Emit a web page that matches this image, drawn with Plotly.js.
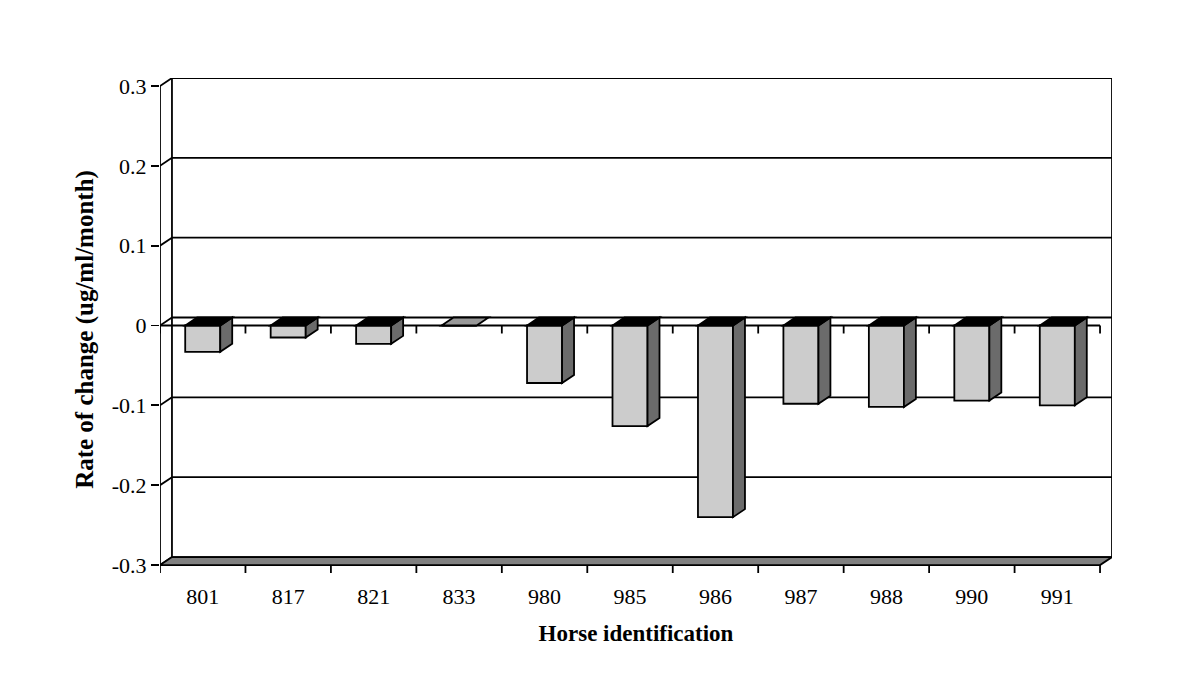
<!DOCTYPE html>
<html>
<head>
<meta charset="utf-8">
<script src="https://cdn.plot.ly/plotly-3.0.1.min.js"></script>
<style>html,body{margin:0;padding:0;background:#fff}</style>
</head>
<body>
<div id="chart" style="width:1200px;height:678px"></div>
<script>
// horse ids and their rate of change
const horseIds = ["801", "817", "821", "833", "980", "985", "986", "987", "988", "990", "991"];
const rateOfChange = [-0.033, -0.015, -0.023, 0, -0.072, -0.126, -0.240, -0.098, -0.102, -0.094, -0.100];
const yTicks = [-0.3, -0.2, -0.1, 0, 0.1, 0.2, 0.3];
const yTickText = ["-0.3", "-0.2", "-0.1", "0", "0.1", "0.2", "0.3"];

// fake 3d depth, in axis units
const dx = 0.14, dy = 0.01;
const barW = 0.41;
const idx = horseIds.map((_, i) => i);
const xMin = -0.5, xMax = horseIds.length - 0.5;
const yMin = yTicks[0], yMax = yTicks[yTicks.length - 1];

const black = { color: "#000", width: 1.8 };
const shapes = [];
const line = (x0, y0, x1, y1, layer) =>
	shapes.push({ type: "line", xref: "x", yref: "y", x0, y0, x1, y1, line: black, layer: layer || "below" });
const poly = (pts, fill, layer) =>
	shapes.push({
		type: "path", xref: "x", yref: "y", layer: layer || "below",
		path: "M" + pts.map(p => p[0] + "," + p[1]).join(" L") + " Z",
		fillcolor: fill, line: black,
	});

// back wall gridlines + side wall diagonals
yTicks.forEach(v => {
	line(xMin + dx, v + dy, xMax + dx, v + dy);
	line(xMin, v, xMin + dx, v + dy);
});
line(xMin + dx, yMin + dy, xMin + dx, yMax + dy);
line(xMax + dx, yMin + dy, xMax + dx, yMax + dy);

// floor
poly([[xMin, yMin], [xMax, yMin], [xMax + dx, yMin + dy], [xMin + dx, yMin + dy]], "#808080");

// front axes
line(xMin, yMin, xMin, yMax);
line(xMin, 0, xMax, 0);
for (let k = 0; k <= horseIds.length; k++) {
	const b = k - 0.5;
	line(b, yMin, b, yMin - dy);
	line(b, 0, b, -dy);
}

// bar side and top faces
rateOfChange.forEach((v, i) => {
	const l = i - barW / 2, r = i + barW / 2;
	if (v < 0) poly([[r, 0], [r + dx, dy], [r + dx, v + dy], [r, v]], "#6b6b6b", "above");
	poly([[l, 0], [r, 0], [r + dx, dy], [l + dx, dy]], v < 0 ? "#000" : "#999", "above");
});

const data = [{
	type: "bar",
	x: idx,
	y: rateOfChange,
	width: barW,
	marker: { color: "#cccccc", line: black },
	hoverinfo: "skip",
}];

const font = { family: "Liberation Serif, 'Times New Roman', serif", color: "#000" };

const layout = {
	width: 1200,
	height: 678,
	margin: { l: 160, r: 88, t: 78, b: 97 },
	paper_bgcolor: "#fff",
	plot_bgcolor: "#fff",
	showlegend: false,
	font,
	xaxis: {
		range: [xMin, xMax + dx],
		tickvals: idx,
		ticktext: horseIds,
		ticks: "",
		showgrid: false,
		zeroline: false,
		showline: false,
		tickfont: { ...font, size: 22 },
		title: { text: "<b>Horse identification</b>", font: { ...font, size: 23 }, standoff: 16 },
	},
	yaxis: {
		range: [yMin - 0.02, yMax + dy],
		tickvals: yTicks,
		ticktext: yTickText,
		ticks: "outside",
		ticklen: 8,
		tickwidth: 1.8,
		tickcolor: "#000",
		showgrid: false,
		zeroline: false,
		showline: false,
		tickfont: { ...font, size: 22 },
		title: { text: "<b>Rate of change (ug/ml/month)</b>", font: { ...font, size: 25 }, standoff: 11 },
	},
	shapes,
};

Plotly.newPlot("chart", data, layout, { staticPlot: true });
</script>
</body>
</html>
